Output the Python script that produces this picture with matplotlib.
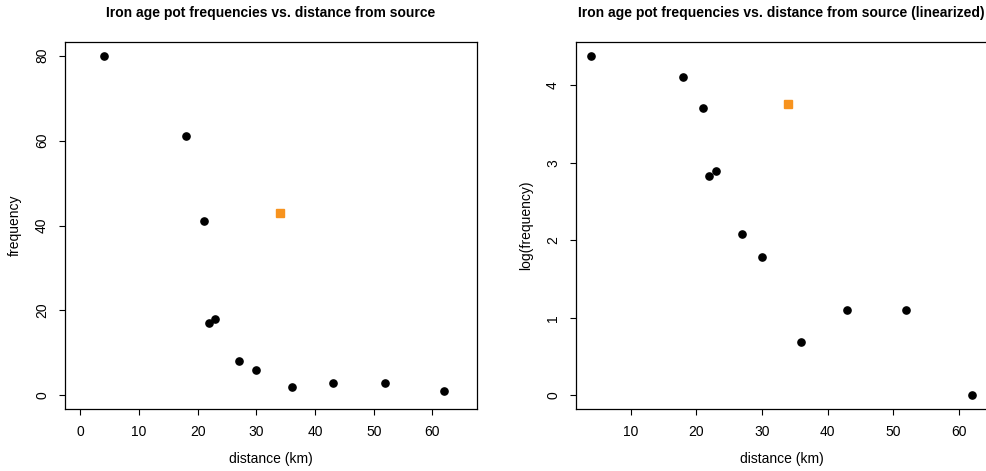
import numpy as np
import matplotlib
matplotlib.use("Agg")
import matplotlib.pyplot as plt

plt.rcParams["font.family"] = ["Liberation Sans", "DejaVu Sans"]

# Daten
distance = [4, 18, 21, 22, 23, 27, 30, 36, 43, 52, 62]
frequency = [80, 61, 41, 17, 18, 8, 6, 2, 3, 3, 1]
new_distance = [34]
new_frequency = [43]

log_frequency = np.log(frequency)
log_new_frequency = np.log(new_frequency)

orange = "#F7931E"

fig = plt.figure(figsize=(9.87, 4.71), dpi=100)
ax1 = fig.add_axes([0.0659, 0.1316, 0.4174, 0.779])
ax2 = fig.add_axes([0.5836, 0.1316, 0.4167, 0.779])


def r_style(ax, xlim, ylim, xticks, yticks, xlabel, ylabel, title):
    # R-typische Achsen: 4 % Rand, Ticks nach außen
    ax.set_xlim(xlim[0] - 0.04 * (xlim[1] - xlim[0]), xlim[1] + 0.04 * (xlim[1] - xlim[0]))
    ax.set_ylim(ylim[0] - 0.04 * (ylim[1] - ylim[0]), ylim[1] + 0.04 * (ylim[1] - ylim[0]))
    ax.set_xticks(xticks)
    ax.set_yticks(yticks)
    ax.tick_params(direction="out", length=4.5, width=0.8, labelsize=10, pad=7)
    for lab in ax.get_yticklabels():
        lab.set_rotation(90)
        lab.set_va("center")
    for s in ax.spines.values():
        s.set_linewidth(0.9)

    ax.set_title(title, fontsize=10, fontweight="bold", pad=18)
    # Achsentitel mit festem Abstand (50 px) zur Achse, wie in R
    bbox = ax.get_position()
    w_px = bbox.width * fig.get_figwidth() * fig.dpi
    h_px = bbox.height * fig.get_figheight() * fig.dpi
    ax.set_xlabel(xlabel, fontsize=10, va="center")
    ax.xaxis.set_label_coords(0.5, -50 / h_px)
    ax.set_ylabel(ylabel, fontsize=10, va="center")
    ax.yaxis.set_label_coords(-50 / w_px, 0.5)


# Linkes Diagramm
ax1.plot(distance, frequency, "o", color="black", markersize=5.2)
ax1.plot(new_distance, new_frequency, "s", color=orange, markersize=5.6)
r_style(ax1, (0, 65), (0, 80), range(0, 61, 10), range(0, 81, 20),
        "distance (km)", "frequency",
        "Iron age pot frequencies vs. distance from source")

# Rechtes Diagramm (linearisiert)
ax2.plot(distance, log_frequency, "o", color="black", markersize=5.2)
ax2.plot(new_distance, log_new_frequency, "s", color=orange, markersize=5.6)
r_style(ax2, (min(distance), max(distance)), (log_frequency.min(), log_frequency.max()),
        range(10, 61, 10), range(0, 5),
        "distance (km)", "log(frequency)",
        "Iron age pot frequencies vs. distance from source (linearized)")

fig.savefig("out.png", dpi=100)
